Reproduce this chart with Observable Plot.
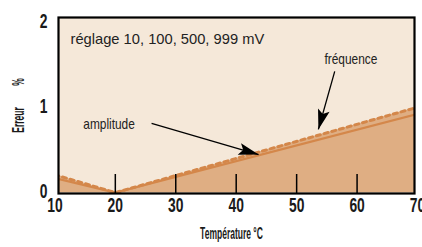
<!DOCTYPE html>
<html>
<head>
<meta charset="utf-8">
<script src="https://cdn.jsdelivr.net/npm/d3@7"></script>
<script src="https://cdn.jsdelivr.net/npm/@observablehq/plot@0.6"></script>
<style>
  html, body { margin: 0; padding: 0; background: #fff; }
  #chart svg { display: block; }
</style>
</head>
<body>
<div id="chart"></div>
<script>
// ---- data ----
const temperature = [10, 20, 70];          // °C
const amplitude   = [0.17, 0.0, 0.92];     // Erreur % (solid line)
const frequence   = [0.21, 0.0, 1.00];     // Erreur % (dashed line)
const xTickLabels = [10, 20, 30, 40, 50, 60, 70];
const xTickMarks  = [20, 30, 40, 50, 60];
const yTickLabels = [0, 1, 2];
const subtitle    = "réglage 10, 100, 500, 999 mV";
const xTitle      = "Température °C";
const yTitle      = "Erreur %";
const annotations = [
  {label: "amplitude", x: 14.7, y: 0.80, ax: 26.0, ay: 0.81, tx: 43.7, ty: 0.446},
  {label: "fréquence", x: 54.6, y: 1.565, ax: 56.3, ay: 1.42, tx: 53.6, ty: 0.74}
];

// ---- layout ----
const W = 422, H = 247;
const xDomain = [10.6, 69.5], yDomain = [-0.01, 2.05];
const mL = 58, mR = 8, mT = 17, mB = 54;
const px = x => mL + (x - xDomain[0]) / (xDomain[1] - xDomain[0]) * (W - mL - mR);
const py = y => (H - mB) - (y - yDomain[0]) / (yDomain[1] - yDomain[0]) * (H - mT - mB);
annotations.forEach(a => {
  const dx = px(a.tx) - px(a.ax), dy = py(a.ty) - py(a.ay);
  a.rot = Math.atan2(dx, -dy) * 180 / Math.PI;
});

const cream = "#f5e8d9", tan = "#dfae83", orange = "#d4874a";
const font = "'Liberation Sans', Arial, sans-serif";

const rows = temperature.map((t, i) => ({t, amp: amplitude[i], freq: frequence[i]}));

const headSymbol = {
  draw(ctx) {
    ctx.moveTo(0, 0);
    ctx.lineTo(-6, 20);
    ctx.lineTo(0, 16);
    ctx.lineTo(6, 20);
    ctx.closePath();
  }
};

const chart = Plot.plot({
  width: W, height: H,
  marginLeft: mL, marginRight: mR, marginTop: mT, marginBottom: mB,
  style: {fontFamily: font, background: "#fff", overflow: "visible"},
  x: {domain: xDomain, axis: null},
  y: {domain: yDomain, axis: null},
  marks: [
    Plot.frame({fill: cream, stroke: null}),
    Plot.areaY(rows, {x: "t", y: "freq", fill: tan, clip: true}),
    Plot.line(rows, {x: "t", y: "amp", stroke: orange, strokeWidth: 2.2, clip: true}),
    Plot.line(rows, {x: "t", y: "freq", stroke: orange, strokeWidth: 3, strokeDasharray: "4,4", clip: true}),
    Plot.axisX({ticks: xTickMarks, tickSize: -19, tickFormat: () => "", stroke: "black", strokeWidth: 1.5}),
    Plot.frame({stroke: "black", strokeWidth: 2.2}),
    // tick labels
    Plot.text(xTickLabels, {x: d => d, frameAnchor: "bottom", dy: 18, text: d => String(d),
      fontSize: 21, fontWeight: "bold", fill: "#1a1a1a"}),
    Plot.text(yTickLabels, {y: d => d, frameAnchor: "left", dx: -11, dy: -1, textAnchor: "end", text: d => String(d),
      fontSize: 21, fontWeight: "bold", fill: "#1a1a1a"}),
    // axis titles
    Plot.text([xTitle], {frameAnchor: "bottom", dx: -5, dy: 45, text: d => d, fontSize: 17, fontWeight: "bold", fill: "#1a1a1a"}),
    Plot.text([yTitle], {frameAnchor: "left", textAnchor: "middle", dx: -40, rotate: -90, text: d => d, fontSize: 17, fontWeight: "bold", fill: "#1a1a1a"}),
    // subtitle
    Plot.text([subtitle], {frameAnchor: "top-left", dx: 12, dy: 16, textAnchor: "start", text: d => d, fontSize: 15, fill: "#222"}),
    // annotations
    Plot.link(annotations, {x1: "ax", y1: "ay", x2: "tx", y2: "ty", stroke: "black", strokeWidth: 1.3}),
    Plot.dot(annotations, {x: "tx", y: "ty", symbol: headSymbol, rotate: "rot", fill: "black", stroke: "none"}),
    Plot.text(annotations, {x: "x", y: "y", text: "label", textAnchor: "start", fontSize: 14.5, fill: "#222"})
  ]
});
document.getElementById("chart").appendChild(chart);

// horizontal condensing per text (emulates the condensed typeface of the original)
const tickSet = new Set([...xTickLabels, ...yTickLabels].map(String));
const annSet = new Set(annotations.map(a => a.label));
chart.querySelectorAll("text").forEach(el => {
  const s = el.textContent;
  if (s === yTitle) {
    // rotated title: condense along its own axis, widen the gap before "%"
    const [word, unit] = yTitle.split(" ");
    el.textContent = word + " ";
    const ts = document.createElementNS("http://www.w3.org/2000/svg", "tspan");
    ts.setAttribute("dx", "38");
    ts.textContent = unit;
    el.appendChild(ts);
    el.setAttribute("transform", (el.getAttribute("transform") || "") + " scale(0.5,1)");
    return;
  }
  let f = null;
  if (tickSet.has(s)) f = 0.66;
  else if (s === xTitle) f = 0.5;
  else if (annSet.has(s)) f = 0.82;
  else if (s === subtitle) f = 0.98;
  if (f == null) return;
  const len = el.getComputedTextLength();
  if (!len) return;
  el.setAttribute("textLength", (len * f).toFixed(2));
  el.setAttribute("lengthAdjust", "spacingAndGlyphs");
});
</script>
</body>
</html>
